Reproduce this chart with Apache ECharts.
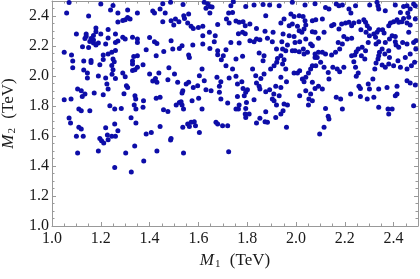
<!DOCTYPE html>
<html><head><meta charset="utf-8">
<script src="https://cdn.jsdelivr.net/npm/echarts@6.0.0/dist/echarts.min.js"></script>
<style>html,body{margin:0;padding:0;background:#fff}#c{width:420px;height:279px}</style>
</head><body><div id="c"></div>
<script>
const xTickValues = [1.0, 1.2, 1.4, 1.6, 1.8, 2.0, 2.2, 2.4];
const yTickValues = [1.0, 1.2, 1.4, 1.6, 1.8, 2.0, 2.2, 2.4];
const xAxisName = '{i|M}{s|1} (TeV)';
const yAxisName = '{i|M}{s|2} (TeV)';
// [M1, M2] pairs in TeV
const scanPoints = [
[1.07,2.49],[1.06,2.42],[1.20,2.48],[1.25,2.47],[1.24,2.44],[1.27,2.42],[1.31,2.44],[1.35,2.42],[1.15,2.40],[1.31,2.39],
[1.32,2.38],[1.30,2.375],[1.29,2.37],[1.27,2.36],[1.18,2.32],[1.18,2.295],[1.23,2.31],[1.14,2.28],[1.10,2.28],[1.17,2.27],
[1.20,2.28],[1.26,2.28],[1.14,2.265],[1.135,2.25],[1.16,2.25],[1.17,2.24],[1.17,2.22],[1.19,2.22],[1.155,2.23],[1.125,2.195],
[1.15,2.19],[1.18,2.206],[1.23,2.253],[1.22,2.213],[1.26,2.224],[1.27,2.233],[1.29,2.258],[1.30,2.246],[1.33,2.258],[1.35,2.246],
[1.35,2.224],[1.26,2.17],[1.245,2.158],[1.23,2.146],[1.21,2.14],[1.05,2.158],[1.08,2.14],[1.085,2.10],[1.085,2.055],[1.13,2.10],
[1.16,2.09],[1.16,2.104],[1.21,2.11],[1.25,2.113],[1.255,2.095],[1.245,2.07],[1.335,2.13],[1.33,2.10],[1.35,2.135],[1.13,2.04],
[1.145,2.02],[1.145,1.987],[1.196,2.075],[1.19,2.00],[1.22,1.987],[1.225,1.946],[1.23,1.913],[1.26,1.984],[1.29,2.02],[1.30,1.995],
[1.33,2.037],[1.34,2.042],[1.35,2.058],[1.33,2.08],[1.25,2.042],[1.246,2.011],[1.305,1.935],[1.31,1.924],[1.295,1.882],[1.34,1.869],
[1.343,1.847],[1.05,1.842],[1.078,1.847],[1.105,1.913],[1.12,1.902],[1.124,1.864],[1.135,1.88],[1.173,1.886],[1.11,1.78],[1.21,1.875],
[1.237,1.802],[1.257,1.78],[1.284,1.784],[1.337,1.806],[1.344,1.78],[1.155,1.769],[1.12,1.769],[1.07,1.72],[1.076,1.686],[1.11,1.658],
[1.12,1.647],[1.128,1.598],[1.10,1.598],[1.196,1.584],[1.22,1.655],[1.227,1.606],[1.245,1.598],[1.26,1.598],[1.257,1.68],[1.27,1.635],
[1.324,1.722],[1.344,1.686],
[1.105,1.487],[1.19,1.50],[1.203,1.569],[1.212,1.553],[1.23,1.575],[1.257,1.39],[1.302,1.487],[1.325,1.36],[1.339,1.533],[1.376,1.433],
[1.43,1.50],[1.486,1.573],[1.539,1.487],[1.724,1.495],
[1.454,2.482],[1.486,2.491],[1.537,2.477],[1.624,2.491],[1.638,2.482],[1.647,2.464],[1.631,2.451],[1.743,2.495],[1.754,2.504],[1.733,2.469],
[1.794,2.464],[1.828,2.473],[1.865,2.477],[1.892,2.473],[1.413,2.433],[1.42,2.42],[1.443,2.446],[1.464,2.42],[1.454,2.362],[1.488,2.369],
[1.499,2.34],[1.506,2.38],[1.52,2.362],[1.54,2.402],[1.543,2.384],[1.56,2.413],[1.556,2.353],[1.57,2.331],[1.579,2.317],[1.60,2.324],
[1.618,2.331],[1.647,2.42],[1.656,2.46],[1.645,2.291],[1.669,2.269],[1.679,2.344],[1.724,2.42],[1.74,2.424],[1.715,2.38],[1.726,2.353],
[1.754,2.366],[1.767,2.358],[1.783,2.362],[1.792,2.335],[1.811,2.346],[1.838,2.317],[1.876,2.402],[1.873,2.298],[1.906,2.291],[1.764,2.282],
[1.781,2.291],[1.792,2.282],[1.40,2.257],[1.42,2.229],[1.43,2.217],[1.458,2.164],[1.488,2.235],[1.495,2.18],[1.522,2.184],[1.533,2.202],
[1.56,2.14],[1.563,2.124],[1.577,2.206],[1.618,2.269],[1.618,2.213],[1.647,2.184],[1.665,2.229],[1.679,2.169],[1.679,2.142],[1.694,2.109],
[1.702,2.135],[1.713,2.175],[1.733,2.224],[1.754,2.113],[1.767,2.22],[1.781,2.131],[1.811,2.235],[1.828,2.229],[1.838,2.246],[1.852,2.242],
[1.883,2.251],[1.903,2.229],[1.92,2.18],[1.924,2.117],[1.849,2.153],[1.865,2.102],[1.869,2.135],[1.896,2.047],[1.91,2.069],[1.921,2.091],
[1.373,2.075],[1.386,2.175],[1.427,2.135],[1.413,1.966],[1.424,1.984],[1.43,1.958],[1.438,2.02],[1.40,2.013],[1.475,1.975],[1.479,2.055],
[1.502,2.013],[1.515,1.958],[1.536,1.902],[1.533,1.886],[1.55,1.946],[1.56,1.958],[1.579,1.924],[1.597,1.935],[1.604,2.002],[1.615,2.047],
[1.624,1.969],[1.631,1.909],[1.652,1.902],[1.676,1.991],[1.686,1.931],[1.692,1.962],[1.686,1.891],[1.713,2.069],[1.726,1.986],[1.74,2.047],
[1.754,1.998],[1.76,1.946],[1.778,1.962],[1.783,1.917],[1.794,1.891],[1.788,1.869],[1.801,1.909],[1.822,2.047],[1.835,2.002],[1.838,1.953],
[1.849,1.931],[1.852,1.913],[1.856,1.984],[1.869,2.013],[1.876,1.895],[1.892,1.909],[1.903,1.847],[1.909,1.88],[1.917,1.931],[1.828,1.842],
[1.375,1.835],[1.373,1.791],[1.427,1.851],[1.443,1.858],[1.457,1.775],[1.475,1.764],[1.509,1.806],[1.522,1.824],[1.529,1.829],[1.533,1.806],
[1.539,1.78],[1.574,1.835],[1.601,1.851],[1.615,1.78],[1.692,1.847],[1.72,1.82],[1.754,1.78],[1.764,1.78],[1.767,1.806],[1.797,1.824],
[1.794,1.784],[1.76,1.864],[1.792,1.746],[1.794,1.724],[1.808,1.746],[1.838,1.686],[1.852,1.718],[1.873,1.695],[1.883,1.691],[1.917,1.724],
[1.92,1.806],[1.876,1.762],[1.91,1.835],[1.699,1.669],[1.72,1.669],[1.672,1.691],[1.679,1.68],[1.556,1.68],[1.57,1.691],[1.583,1.695],
[1.588,1.669],[1.563,1.664],[1.536,1.658],[1.443,1.664],[1.407,1.624],[1.386,1.613],[1.488,1.584],[1.604,1.624],
[1.931,2.469],[1.951,2.38],[1.985,2.491],[2.019,2.502],[2.037,2.473],[2.078,2.482],[2.121,2.457],[2.135,2.446],[2.165,2.48],[2.176,2.469],
[2.19,2.473],[2.217,2.446],[2.225,2.42],[2.244,2.469],[2.282,2.502],[2.302,2.473],[2.332,2.491],[2.339,2.446],[2.336,2.469],[2.366,2.435],
[2.407,2.473],[2.441,2.464],[2.455,2.469],[2.482,2.48],[2.489,2.469],[2.468,2.446],[2.458,2.42],[2.428,2.424],[1.979,2.413],[1.992,2.397],
[2.013,2.402],[2.029,2.397],[2.037,2.369],[2.04,2.34],[2.033,2.313],[2.024,2.291],[2.013,2.302],[2.006,2.331],[1.985,2.346],[1.972,2.335],
[1.938,2.353],[1.947,2.28],[1.972,2.269],[1.992,2.264],[1.996,2.224],[1.965,2.206],[1.942,2.229],[2.015,2.229],[2.03,2.18],[2.04,2.246],
[2.067,2.369],[2.081,2.375],[2.067,2.295],[2.078,2.291],[2.092,2.251],[2.115,2.291],[2.108,2.38],[2.146,2.335],[2.155,2.344],[2.176,2.313],
[2.187,2.346],[2.203,2.353],[2.217,2.358],[2.228,2.335],[2.237,2.353],[2.258,2.362],[2.266,2.309],[2.278,2.375],[2.285,2.358],[2.292,2.335],
[2.301,2.317],[2.287,2.291],[2.301,2.269],[2.296,2.224],[2.319,2.28],[2.326,2.258],[2.332,2.291],[2.339,2.309],[2.355,2.309],[2.361,2.286],
[2.38,2.335],[2.387,2.353],[2.40,2.362],[2.414,2.375],[2.394,2.269],[2.407,2.264],[2.407,2.229],[2.383,2.246],[2.366,2.224],[2.339,2.229],
[2.328,2.213],[2.342,2.158],[2.353,2.18],[2.364,2.146],[2.38,2.169],[2.41,2.206],[2.421,2.191],[2.437,2.224],[2.462,2.291],[2.482,2.224],
[2.491,2.235],[2.468,2.34],[2.455,2.353],[2.489,2.38],[2.441,2.384],[2.462,2.391],[2.434,2.362],[2.421,2.358],[2.21,2.246],[2.228,2.251],
[2.196,2.264],[2.19,2.213],[2.173,2.224],[2.179,2.18],[2.162,2.158],[2.146,2.14],[2.121,2.146],[2.108,2.158],[2.092,2.158],[2.078,2.146],
[2.067,2.202],[2.06,2.213],[2.047,2.158],[2.033,2.146],[2.013,2.162],[1.996,2.169],[1.985,2.169],[1.958,2.169],[1.945,2.18],[1.938,2.135],
[1.951,2.109],[1.945,2.08],[1.958,2.047],[1.938,1.991],[1.961,1.962],[1.938,1.924],[1.992,2.02],[2.006,2.02],[2.015,2.035],[2.026,1.98],
[2.033,1.962],[2.04,1.991],[2.051,2.02],[2.06,2.047],[2.067,2.069],[2.081,2.069],[2.078,2.124],[2.087,2.124],[2.101,2.091],[2.115,2.058],
[2.132,2.024],[2.135,1.98],[2.151,2.058],[2.169,2.047],[2.179,2.029],[2.196,2.058],[2.228,2.135],[2.247,2.162],[2.241,2.14],[2.255,2.18],
[2.271,2.191],[2.285,2.169],[2.282,2.113],[2.268,2.135],[2.237,2.095],[2.244,2.058],[2.255,2.02],[2.247,1.998],[2.258,1.931],[2.264,1.917],
[2.296,1.946],[2.301,1.913],[2.315,1.98],[2.323,2.047],[2.328,2.086],[2.336,2.113],[2.339,2.135],[2.353,2.073],[2.366,2.058],[2.38,2.08],
[2.383,2.124],[2.40,2.069],[2.418,2.102],[2.428,2.058],[2.448,2.124],[2.455,2.047],[2.473,2.069],[2.486,2.091],[2.491,2.18],[2.468,2.146],
[2.455,2.213],[2.455,1.969],[2.468,1.953],[2.489,1.94],[2.414,1.931],[2.407,1.869],[2.414,1.88],[2.373,1.924],[2.339,1.913],[2.292,1.847],
[2.319,1.858],[2.264,1.864],[2.224,1.88],[2.183,1.847],[2.165,1.858],[2.108,1.913],[2.092,1.931],[2.078,1.917],[2.067,1.958],[2.06,1.88],
[2.053,1.847],[2.067,1.835],[2.051,1.806],[2.015,1.869],[2.04,1.902],[1.965,1.806],[1.951,1.813],[1.947,1.769],[1.938,1.746],[1.931,1.869],
[1.961,1.658],[2.097,1.613],[2.115,1.658],[2.135,1.713],[2.132,1.731],[2.121,1.784],[2.19,1.78],[2.339,1.791],[2.377,1.78],[2.394,1.78],
[2.38,1.746],[2.482,1.802]
];

const serif = "'Liberation Serif', 'DejaVu Serif', serif";
const frameColor = '#999999';
const labelColor = '#1a1a1a';
const richName = {
  i: { fontStyle: 'italic', fontFamily: serif, fontSize: 17, color: labelColor },
  s: { fontFamily: serif, fontSize: 11, color: labelColor, padding: [8, 5, 0, 1] }
};
function makeAxis(isX, mirror, ticks) {
  return {
    type: 'value', min: 1.0, max: 2.5, interval: 0.2,
    position: isX ? (mirror ? 'top' : 'bottom') : (mirror ? 'right' : 'left'),
    name: mirror ? '' : (isX ? xAxisName : yAxisName),
    nameLocation: 'middle',
    nameGap: isX ? 22 : 34,
    nameTextStyle: { fontFamily: serif, fontSize: 17, color: labelColor, rich: richName },
    axisLine: { show: true, onZero: false, lineStyle: { color: frameColor, width: 1 } },
    axisTick: { show: true, inside: true, length: 4, lineStyle: { color: frameColor } },
    minorTick: { show: true, splitNumber: 4, length: 2.5, lineStyle: { color: frameColor } },
    splitLine: { show: false },
    axisLabel: {
      show: !mirror, showMaxLabel: false, margin: isX ? 5 : 3,
      fontFamily: serif, fontSize: 16, color: labelColor,
      formatter: v => ticks.some(t => Math.abs(t - v) < 1e-6) ? v.toFixed(1) : ''
    }
  };
}
const chart = echarts.init(document.getElementById('c'), null, { renderer: 'canvas' });
chart.setOption({
  animation: false,
  grid: { left: 52, right: 2, top: 1, bottom: 53, containLabel: false, outerBoundsMode: 'none' },
  xAxis: [makeAxis(true, false, xTickValues), makeAxis(true, true, xTickValues)],
  yAxis: [makeAxis(false, false, yTickValues), makeAxis(false, true, yTickValues)],
  series: [{
    type: 'scatter', data: scanPoints, symbol: 'circle', symbolSize: 5,
    itemStyle: { color: '#0d0da8', opacity: 1 }, clip: true
  }]
});
</script></body></html>
